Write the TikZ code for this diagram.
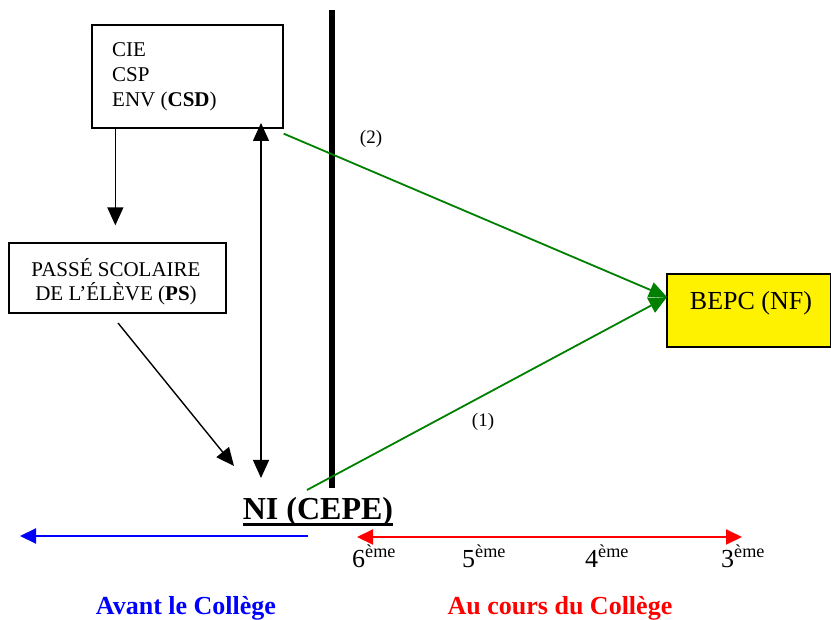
\documentclass[tikz,border=0pt]{standalone}
\usepackage{fontspec}
\setmainfont{Liberation Serif}
\usetikzlibrary{arrows.meta}
\definecolor{dgreen}{RGB}{0,128,0}
\begin{document}
\begin{tikzpicture}[x=1pt,y=-1pt,
  box/.style={draw,line width=1.3pt,inner sep=0pt},
  txt/.style={inner sep=0pt,font=\fontsize{21}{25}\selectfont},
  arr/.style={line width=1.4pt,-{Triangle[length=18pt,width=16pt]}},
  darr/.style={line width=1.4pt,{Triangle[length=18pt,width=16pt]}-{Triangle[length=18pt,width=16pt]}},
  garr/.style={dgreen,line width=1.8pt,-{Triangle[length=18pt,width=16pt]}},
  lbl/.style={inner sep=0pt,font=\fontsize{19}{22}\selectfont},
  ord/.style={inner sep=0pt,anchor=base west,font=\fontsize{26}{30}\selectfont}]
\useasboundingbox (0,0) rectangle (831,620);
% boxes
\node[box,minimum width=191pt,minimum height=103pt] (cie) at (187.5,76.5) {};
\node[txt,anchor=base west] (t1) at (112,57) {CIE};
\node[txt,anchor=base west] (t2) at (112,82) {CSP};
\node[txt,anchor=base west] (t3) at (112,107) {ENV (\textbf{CSD})};
\node[box,minimum width=217pt,minimum height=70pt] (ps) at (117.5,278) {};
\node[txt,anchor=base] (p1) at (116,277) {PASSÉ SCOLAIRE};
\node[txt,anchor=base] (p2) at (116,301) {DE L’ÉLÈVE (\textbf{PS})};
\node[box,fill=yellow,minimum width=164pt,minimum height=73pt] (bepc) at (749,310.5) {};
\node[inner sep=0pt,anchor=base,font=\fontsize{26}{30}\selectfont] (bt) at (751,310) {BEPC (NF)};
% NI
\node[inner sep=0pt,anchor=base,font=\fontsize{32}{36}\selectfont\bfseries] (ni) at (318,520) {NI (CEPE)};
\draw[line width=3pt] ([yshift=-5pt]ni.base west) -- ([yshift=-5pt]ni.base east);
% thick bar
\coordinate (bt0) at (332,10);
\coordinate (bt1) at (332,488);
\draw[line width=6pt] (bt0) -- (bt1);
% black arrows
\draw[arr,shorten >=17pt] ([xshift=24pt]cie.south west) -- ([xshift=24pt]cie.south west |- ps.north);
\coordinate (dT) at (261,123);
\coordinate (dB) at (261,478);
\draw[darr] (dT) -- (dB);
\coordinate (pS) at (118,323);
\coordinate (pE) at (234,466);
\draw[arr] (pS) -- (pE);
% green arrows
\coordinate (gT) at (667,297);
\coordinate (g1) at (307,490);
\draw[garr] ([yshift=-5pt]cie.south east) -- (gT);
\draw[garr] (g1) -- (gT);
\node[lbl] (l2) at (371,139) {(2)};
\node[lbl] (l1) at (483,422) {(1)};
% timeline
\coordinate (bA) at (308,536);
\coordinate (bB) at (20,536);
\draw[blue,line width=2pt,-{Triangle[length=16pt,width=15pt]}] (bA) -- (bB);
\coordinate (rA) at (357,537);
\coordinate (rB) at (742,537);
\draw[red,line width=2pt,{Triangle[length=16pt,width=15pt]}-{Triangle[length=16pt,width=15pt]}] (rA) -- (rB);
\node[ord] (o6) at (352,567) {6\textsuperscript{ème}};
\node[ord] (o5) at (462,567) {5\textsuperscript{ème}};
\node[ord] (o4) at (585,567) {4\textsuperscript{ème}};
\node[ord] (o3) at (721,567) {3\textsuperscript{ème}};
\node[inner sep=0pt,anchor=base,text=blue,font=\fontsize{26}{30}\selectfont\bfseries] (av) at (186,614) {Avant le Collège};
\node[inner sep=0pt,anchor=base,text=red,font=\fontsize{26}{30}\selectfont\bfseries] (au) at (560,614) {Au cours du Collège};
\end{tikzpicture}
\end{document}
